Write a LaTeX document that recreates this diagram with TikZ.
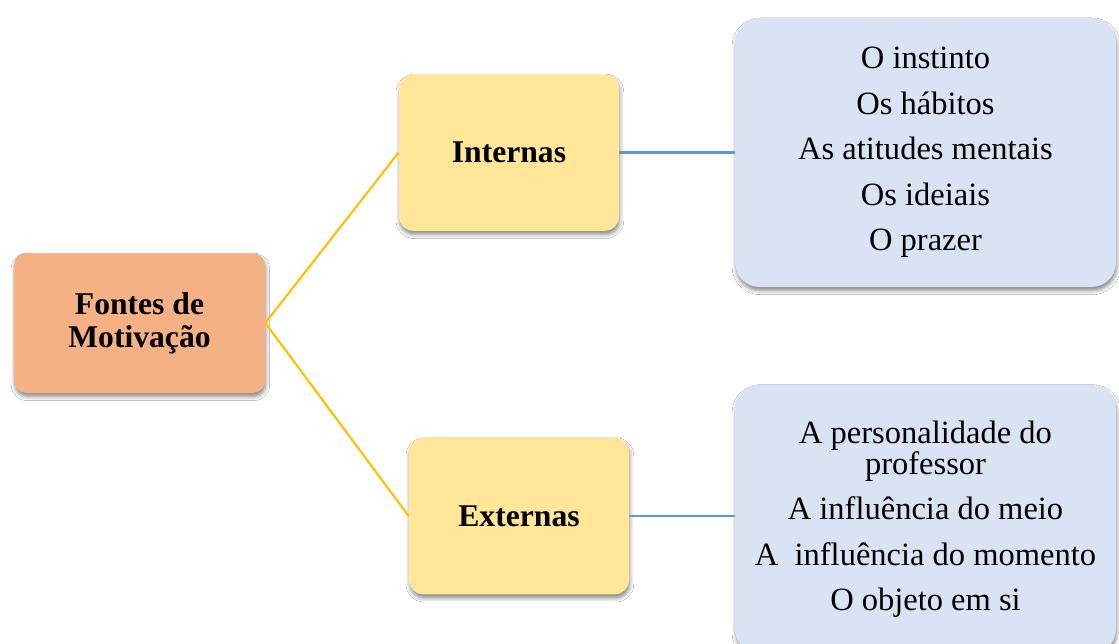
\documentclass[tikz,border=0pt]{standalone}
\usepackage{fontspec}
\setmainfont{Liberation Serif}
\usepackage{xcolor}
\usepackage{tikz}
\usetikzlibrary{positioning, shadows.blur}
\definecolor{rootfill}{RGB}{244,177,131}
\definecolor{midfill}{RGB}{255,230,153}
\definecolor{listfill}{RGB}{218,227,243}
\definecolor{ylink}{RGB}{255,192,0}
\definecolor{blink}{RGB}{91,155,213}
\tikzset{
  boxshadow/.style={blur shadow={shadow xshift=0.5pt, shadow yshift=-2.2pt, shadow blur radius=2.2pt, shadow opacity=45}},
  rootbox/.style={rectangle, fill=rootfill, rounded corners=7pt, boxshadow,
    minimum width=5.02cm, minimum height=2.8cm, align=center,
    font=\fontsize{18}{19}\selectfont\bfseries},
  midbox/.style={rectangle, fill=midfill, rounded corners=8pt, boxshadow,
    minimum width=4.4cm, minimum height=3.13cm, align=center,
    font=\fontsize{18}{19}\selectfont\bfseries},
  listbox/.style={rectangle, fill=listfill, rounded corners=14pt, boxshadow,
    minimum width=7.62cm, minimum height=5.38cm, align=center,
    font=\fontsize{18.5}{25.9}\selectfont},
  yline/.style={draw=ylink, line width=1.2pt},
  bline/.style={draw=blink, line width=1.2pt}
}
\begin{document}
\begin{tikzpicture}
  \clip (0,0) rectangle (22.38,12.86);
  \fill[white] (0,0) rectangle (22.38,12.86);

  % Root
  \node[rootbox] (root) at (2.79,6.40) {Fontes de\\Motivação};

  % Middle level
  \node[midbox] (intern) at (10.18,9.81) {Internas};
  \node[midbox] (extern) at (10.38,2.54) {Externas};

  % Lists
  \node[listbox] (intlist) at (18.51,9.81) {
    O instinto\\
    Os hábitos\\
    As atitudes mentais\\
    Os ideiais\\
    O prazer
  };
  \node[listbox] (extlist) at (18.51,2.48) {
    A personalidade do\\[-8.2pt]
    professor\\
    A influência do meio\\
    A\ \ influência do momento\\
    O objeto em si
  };

  % Connections
  \draw[yline] (root.east) -- (intern.west);
  \draw[yline] (root.east) -- (extern.west);
  \draw[bline] (intern.east) -- (intern.east -| intlist.west);
  \draw[bline] (extern.east) -- (extern.east -| extlist.west);
\end{tikzpicture}
\end{document}
